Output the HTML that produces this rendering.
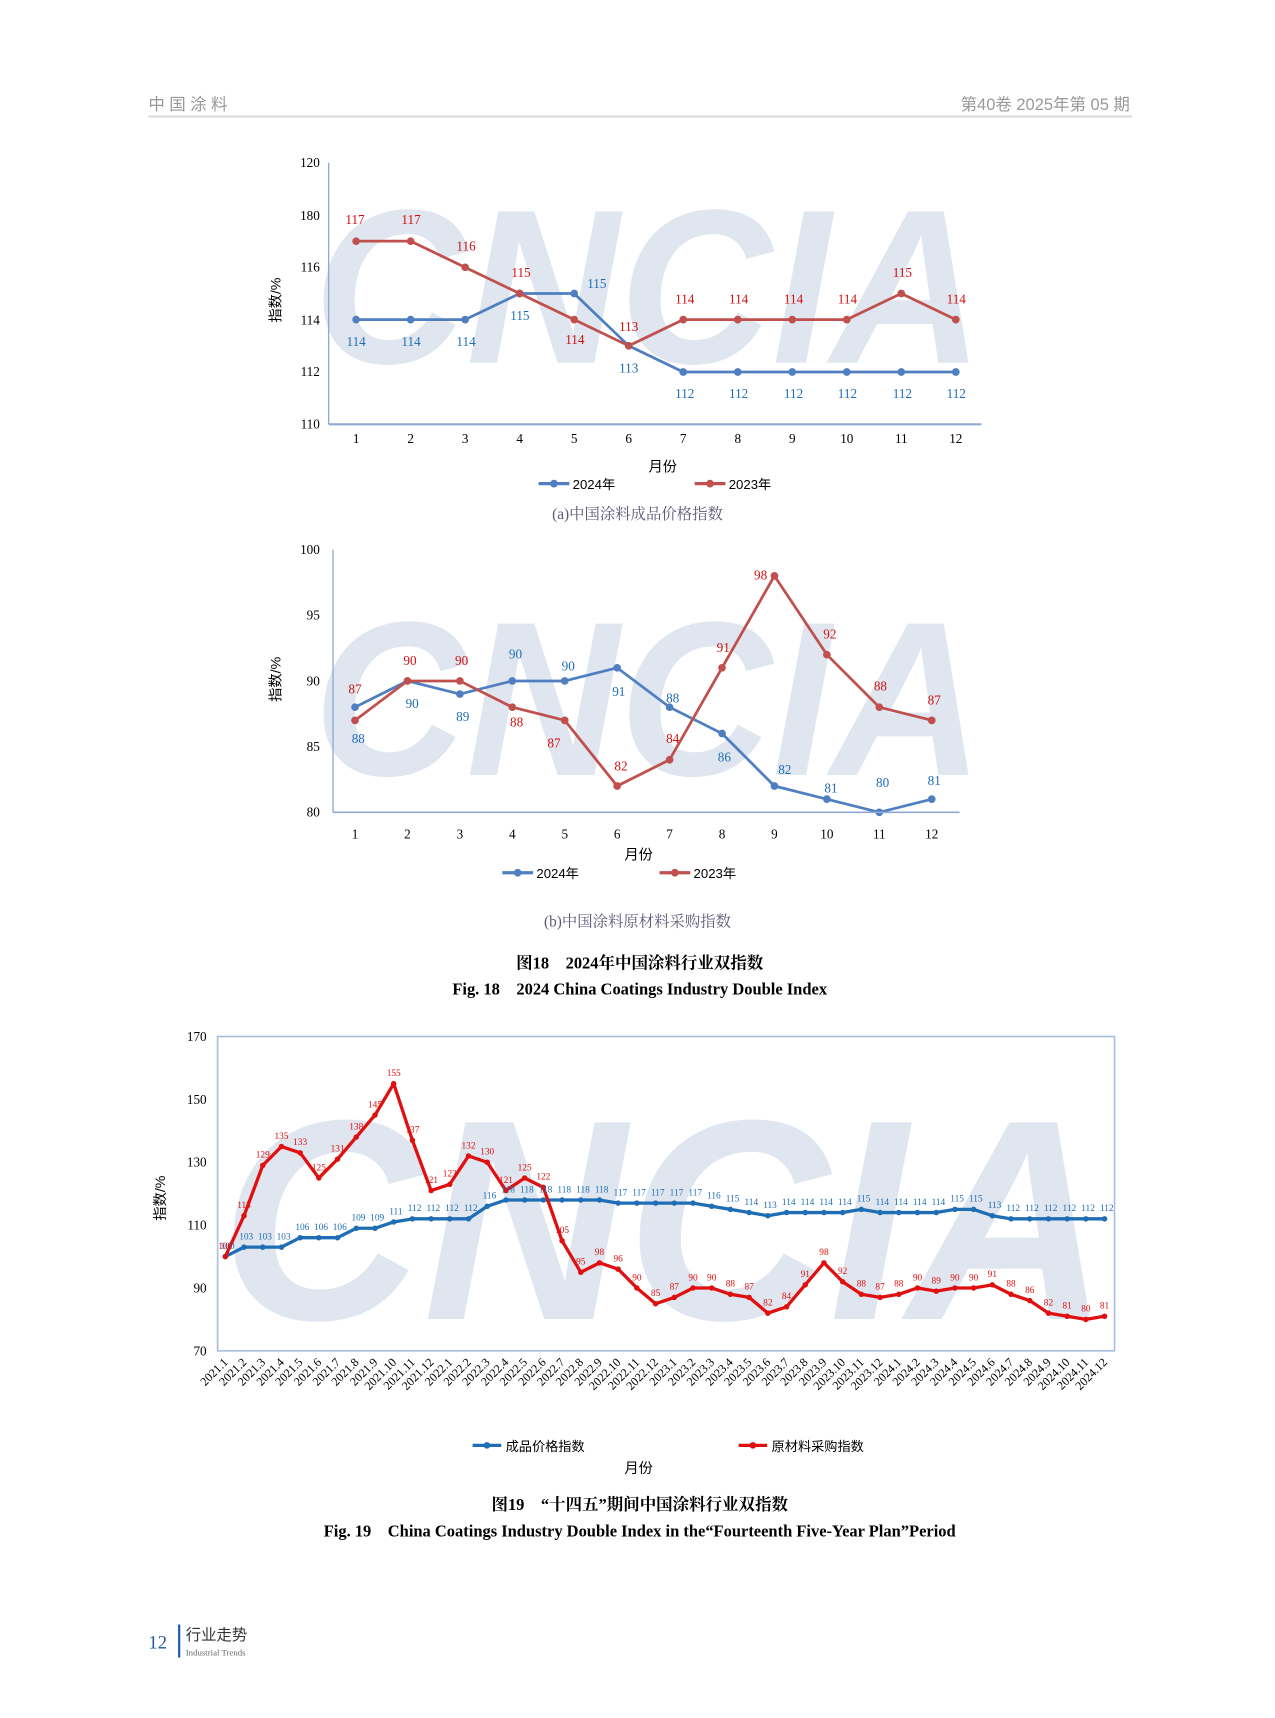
<!DOCTYPE html>
<html><head><meta charset="utf-8">
<style>
html,body{margin:0;padding:0;background:#fff;}
svg{display:block;}
text{font-family:"Liberation Serif","Noto Serif CJK SC",serif;}
.cn{font-family:"Liberation Sans","Noto Sans CJK SC",sans-serif;}
.wm{font-family:"Liberation Sans",sans-serif;font-weight:bold;font-style:italic;fill:#dfe6ef;}
</style></head>
<body>
<svg id="s" width="1275" height="1718" viewBox="0 0 1160 1563" xmlns="http://www.w3.org/2000/svg">
<text x="135" y="100" class="cn" font-size="15" fill="#999" letter-spacing="4">中国涂料</text>
<text x="1028" y="100" class="cn" font-size="15" fill="#999" text-anchor="end">第40卷   2025年第 05 期</text>
<line x1="135" y1="106" x2="1030" y2="106" stroke="#ddd" stroke-width="2"/>

<text x="285" y="330" class="wm" style="font-size:200px" textLength="610" lengthAdjust="spacingAndGlyphs">CNCIA</text>
<text x="285" y="705" class="wm" style="font-size:200px" textLength="610" lengthAdjust="spacingAndGlyphs">CNCIA</text>
<text x="200" y="1200" class="wm" style="font-size:260px" textLength="810" lengthAdjust="spacingAndGlyphs">CNCIA</text>

<g id="g"></g>

<line x1="299" y1="148" x2="299" y2="386" stroke="#8eaad4" stroke-width="1.2"/>
<line x1="299" y1="386" x2="893" y2="386" stroke="#8eaad4" stroke-width="2"/>
<text x="250" y="268" class="cn" font-size="13" transform="rotate(-90 255 268)" text-anchor="middle">指数/%</text>
<text x="603" y="429" class="cn" font-size="13" text-anchor="middle">月份</text>
<line x1="490" y1="440" x2="518" y2="440" stroke="#4f7fc0" stroke-width="3"/><circle cx="504" cy="440" r="3.5" fill="#4f7fc0"/>
<text x="521" y="445" class="cn" font-size="12">2024年</text>
<line x1="632" y1="440" x2="660" y2="440" stroke="#c0504d" stroke-width="3"/><circle cx="646" cy="440" r="3.5" fill="#c0504d"/>
<text x="663" y="445" class="cn" font-size="12">2023年</text>
<text x="580" y="472" font-size="14" fill="#5a5a7a" text-anchor="middle">(a)中国涂料成品价格指数</text>

<line x1="303" y1="500" x2="303" y2="739" stroke="#8eaad4" stroke-width="1.2"/>
<line x1="303" y1="739" x2="873" y2="739" stroke="#8eaad4" stroke-width="1.5"/>
<text x="255" y="618" class="cn" font-size="13" transform="rotate(-90 255 618)" text-anchor="middle">指数/%</text>
<text x="581" y="782" class="cn" font-size="13" text-anchor="middle">月份</text>
<line x1="457" y1="794" x2="485" y2="794" stroke="#4f7fc0" stroke-width="3"/><circle cx="471" cy="794" r="3.5" fill="#4f7fc0"/>
<text x="488" y="799" class="cn" font-size="12">2024年</text>
<line x1="600" y1="794" x2="628" y2="794" stroke="#c0504d" stroke-width="3"/><circle cx="614" cy="794" r="3.5" fill="#c0504d"/>
<text x="631" y="799" class="cn" font-size="12">2023年</text>
<text x="580" y="843" font-size="14" fill="#5a5a7a" text-anchor="middle">(b)中国涂料原材料采购指数</text>

<text x="582" y="881" font-size="15" font-weight="bold" text-anchor="middle">图18　2024年中国涂料行业双指数</text>
<text x="582" y="905" font-size="15" font-weight="bold" text-anchor="middle">Fig. 18　2024 China Coatings Industry Double Index</text>

<rect x="198" y="943" width="816" height="286" fill="none" stroke="#a9c0dd" stroke-width="1.5"/>
<text x="150" y="1090" class="cn" font-size="13" transform="rotate(-90 150 1090)" text-anchor="middle">指数/%</text>
<line x1="430" y1="1315" x2="456" y2="1315" stroke="#1f6db5" stroke-width="3"/><circle cx="443" cy="1315" r="3" fill="#1f6db5"/>
<text x="460" y="1320" class="cn" font-size="12">成品价格指数</text>
<line x1="672" y1="1315" x2="698" y2="1315" stroke="#e01010" stroke-width="3"/><circle cx="685" cy="1315" r="3" fill="#e01010"/>
<text x="702" y="1320" class="cn" font-size="12">原材料采购指数</text>
<text x="581" y="1340" class="cn" font-size="13" text-anchor="middle">月份</text>
<text x="582" y="1374" font-size="15" font-weight="bold" text-anchor="middle">图19　“十四五”期间中国涂料行业双指数</text>
<text x="582" y="1398" font-size="15" font-weight="bold" text-anchor="middle">Fig. 19　China Coatings Industry Double Index in the“Fourteenth Five-Year Plan”Period</text>

<text x="135" y="1500" font-size="17" fill="#1f5aa0">12</text>
<line x1="163" y1="1478" x2="163" y2="1508" stroke="#1f5aa0" stroke-width="2"/>
<text x="169" y="1492" class="cn" font-size="14" fill="#333">行业走势</text>
<text x="169" y="1506" font-size="8" fill="#666">Industrial Trends</text>
</svg>
<script>
var NS="http://www.w3.org/2000/svg",g=document.getElementById("g");
function el(t,a,txt){var e=document.createElementNS(NS,t);for(var k in a)e.setAttribute(k,a[k]);if(txt!==undefined)e.textContent=txt;g.appendChild(e);return e;}
function series(xs,ys,col,w,r){var p=xs.map(function(x,i){return x+","+ys[i]}).join(" ");
 el("polyline",{points:p,fill:"none",stroke:col,"stroke-width":w,"stroke-linejoin":"round"});
 xs.forEach(function(x,i){el("circle",{cx:x,cy:ys[i],r:r,fill:col});});}
var aY=function(v){return 386-(v-110)*23.8}, ticksA=[["120",148],["180",196],["116",243],["114",291],["112",338],["110",386]];
ticksA.forEach(function(t){el("text",{x:291,y:t[1]+4,"font-size":12,"text-anchor":"end"},t[0]);});
var ax=[];for(var i=0;i<12;i++){ax.push(324+i*49.6);el("text",{x:324+i*49.6,y:403,"font-size":12,"text-anchor":"middle"},i+1);}
var a24=[114,114,114,115,115,113,112,112,112,112,112,112],a23=[117,117,116,115,114,113,114,114,114,114,115,114];
series(ax,a24.map(aY),"#4f7fc0",2.5,3.5);series(ax,a23.map(aY),"#c0504d",2.5,3.5);
var a24l=[[324,315],[374,315],[424,315],[473,291],[543,262],[572,339],[623,362],[672,362],[722,362],[771,362],[821,362],[870,362]];
a24l.forEach(function(p,i){el("text",{x:p[0],y:p[1],"font-size":12,fill:"#1f6db5","text-anchor":"middle"},a24[i]);});
var a23l=[[323,204],[374,204],[424,228],[474,252],[523,313],[572,301],[623,276],[672,276],[722,276],[771,276],[821,252],[870,276]];
a23l.forEach(function(p,i){el("text",{x:p[0],y:p[1],"font-size":12,fill:"#d01010","text-anchor":"middle"},a23[i]);});
var bY=function(v){return 739-(v-80)*11.95};
[100,95,90,85,80].forEach(function(v){el("text",{x:291,y:bY(v)+4,"font-size":12,"text-anchor":"end"},v);});
var bx=[];for(var i=0;i<12;i++){bx.push(323+i*47.7);el("text",{x:323+i*47.7,y:763,"font-size":12,"text-anchor":"middle"},i+1);}
var b24=[88,90,89,90,90,91,88,86,82,81,80,81],b23=[87,90,90,88,87,82,84,91,98,92,88,87];
series(bx,b24.map(bY),"#4f7fc0",2.5,3.5);series(bx,b23.map(bY),"#c0504d",2.5,3.5);
var b24l=[[326,676],[375,644],[421,656],[469,599],[517,610],[563,633],[612,639],[659,693],[714,704],[756,721],[803,716],[850,714]];
b24l.forEach(function(p,i){el("text",{x:p[0],y:p[1],"font-size":12,fill:"#1f6db5","text-anchor":"middle"},b24[i]);});
var b23l=[[323,631],[373,605],[420,605],[470,661],[504,680],[565,701],[612,676],[658,593],[692,527],[755,581],[801,628],[850,641]];
b23l.forEach(function(p,i){el("text",{x:p[0],y:p[1],"font-size":12,fill:"#d01010","text-anchor":"middle"},b23[i]);});
var cY=function(v){return 1229-(v-70)*2.86};
[170,150,130,110,90,70].forEach(function(v){el("text",{x:188,y:cY(v)+4,"font-size":12,"text-anchor":"end"},v);});
var blue=[100,103,103,103,106,106,106,109,109,111,112,112,112,112,116,118,118,118,118,118,118,117,117,117,117,117,116,115,114,113,114,114,114,114,115,114,114,114,114,115,115,113,112,112,112,112,112,112];
var red=[100,113,129,135,133,125,131,138,145,155,137,121,123,132,130,121,125,122,105,95,98,96,90,85,87,90,90,88,87,82,84,91,98,92,88,87,88,90,89,90,90,91,88,86,82,81,80,81];
var cx=[],labs=[];for(var i=0;i<48;i++){cx.push(205+i*17.02);labs.push((2021+Math.floor(i/12))+"."+(i%12+1));}
labs.forEach(function(l,i){var x=cx[i]+3,y=1240;el("text",{x:x,y:y,"font-size":11,"text-anchor":"end",transform:"rotate(-45 "+x+" "+y+")"},l);});
series(cx,blue.map(cY),"#1f6db5",3,2.5);series(cx,red.map(cY),"#e01010",3,2.5);
blue.forEach(function(v,i){el("text",{x:cx[i]+2,y:cY(v)-7,"font-size":8.5,fill:"#1f6db5","text-anchor":"middle"},v);});
red.forEach(function(v,i){el("text",{x:cx[i],y:cY(v)-7,"font-size":8.5,fill:"#e01010","text-anchor":"middle"},v);});
</script>
</body></html>
